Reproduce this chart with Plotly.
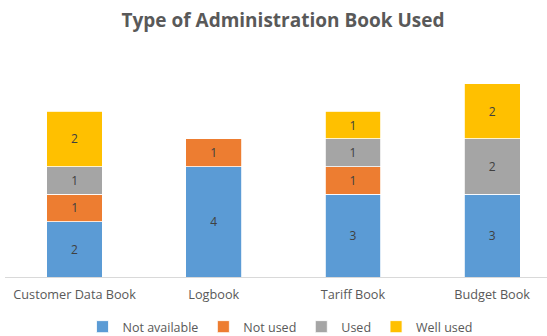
import plotly.graph_objects as go

categories = ["Customer Data Book", "Logbook", "Tariff Book", "Budget Book"]
not_available = [2, 4, 3, 3]
not_used = [1, 1, 1, 0]
used = [1, 0, 1, 2]
well_used = [2, 0, 1, 2]

series = [
    ("Not available", not_available, "#5B9BD5"),
    ("Not used", not_used, "#ED7D31"),
    ("Used", used, "#A5A5A5"),
    ("Well used", well_used, "#FFC000"),
]

FONT = "Open Sans"
fig = go.Figure()
for name, vals, color in series:
    fig.add_trace(go.Bar(
        x=categories,
        y=[v if v else None for v in vals],
        name=name,
        width=0.4,
        marker=dict(color=color, line=dict(color="white", width=0.8)),
        text=[str(v) if v else "" for v in vals],
        textposition="inside",
        insidetextanchor="middle",
        textangle=0,
        textfont=dict(family=FONT, size=12, color="#404040"),
    ))

fig.update_layout(
    barmode="stack",
    width=547, height=336,
    margin=dict(l=5, r=0, t=56, b=59),
    paper_bgcolor="white", plot_bgcolor="white",
    title=dict(text="<b>Type of Administration Book Used</b>",
               x=283/547, xref="container", xanchor="center",
               y=1-20/336, yref="container", yanchor="middle",
               font=dict(family=FONT, size=19, color="#595959")),
    xaxis=dict(range=[-0.5, 3.394], showline=True, linecolor="#D9D9D9", linewidth=1,
               showgrid=False, ticks="", ticklabelstandoff=6,
               tickfont=dict(family=FONT, size=12.7, color="#595959"),
               fixedrange=True),
    yaxis=dict(range=[0, 8], visible=False, showgrid=False, fixedrange=True),
    legend=dict(orientation="h", x=280/547, xanchor="center", xref="container",
                y=1-327/336, yanchor="middle", yref="container",
                font=dict(family=FONT, size=12.5, color="#595959"),
                itemwidth=30, traceorder="normal"),
    showlegend=True,
)

fig.write_html("out.html", config={"displayModeBar": False},
               post_script="document.body.style.margin='0';")
